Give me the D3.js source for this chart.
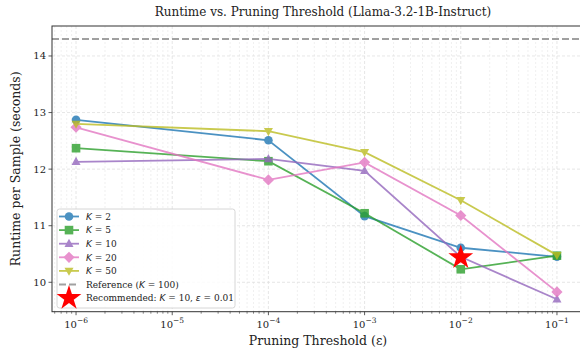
<!DOCTYPE html>
<html><head><meta charset="utf-8">
<script src="https://cdn.jsdelivr.net/npm/d3@7"></script>
<style>body{margin:0;background:#fff}svg{display:block}</style>
</head><body>
<script>
const thresholds = [1e-6, 1e-4, 1e-3, 1e-2, 1e-1];
const seriesNames = ["K = 2", "K = 5", "K = 10", "K = 20", "K = 50"];
const k2  = [12.87, 12.51, 11.17, 10.61, 10.45];
const k5  = [12.37, 12.14, 11.22, 10.23, 10.47];
const k10 = [12.13, 12.18, 11.97, 10.45, 9.70];
const k20 = [12.74, 11.81, 12.12, 11.18, 9.83];
const k50 = [12.80, 12.67, 12.30, 11.45, 10.48];
const referenceValue = 14.3;
const recommended = {x: 1e-2, y: 10.44};
const yTicks = [10, 11, 12, 13, 14];
const xTickExps = [-6, -5, -4, -3, -2, -1];
const colors = ["#1f77b4", "#2ca02c", "#9467bd", "#e377c2", "#bcbd22"];
const markers = ["circle", "square", "triUp", "diamond", "triDown"];
const allSeries = [k2, k5, k10, k20, k50];

const W = 580, H = 356;
const L = 52, R = 581, T = 26, B = 311.7;
const svg = d3.select("body").append("svg").attr("width", W).attr("height", H);
const font = "'DejaVu Serif', serif";

const x = d3.scaleLog().domain([Math.pow(10, -6.25), Math.pow(10, -0.75)]).range([L, R]);
const y = d3.scaleLinear().domain([9.48, 14.53]).range([B, T]);

// grid
const minor = [];
for (let e = -7; e <= 0; e++) for (let m = 2; m <= 9; m++) {
  const v = m * Math.pow(10, e);
  if (v > x.domain()[0] && v < x.domain()[1]) minor.push(v);
}
const majors = xTickExps.map(e => Math.pow(10, e));
const grid = svg.append("g");
grid.selectAll(".mg").data(minor).join("line")
  .attr("x1", d => x(d)).attr("x2", d => x(d)).attr("y1", T).attr("y2", B)
  .attr("stroke", "#e6e6e6").attr("stroke-width", 0.6).attr("stroke-dasharray", "2,2");
grid.selectAll(".Mg").data(majors).join("line")
  .attr("x1", d => x(d)).attr("x2", d => x(d)).attr("y1", T).attr("y2", B)
  .attr("stroke", "#e0e0e0").attr("stroke-width", 0.8).attr("stroke-dasharray", "3,2");
grid.selectAll(".yg").data(yTicks).join("line")
  .attr("x1", L).attr("x2", R).attr("y1", d => y(d)).attr("y2", d => y(d))
  .attr("stroke", "#e0e0e0").attr("stroke-width", 0.8).attr("stroke-dasharray", "3,2");

// reference line
svg.append("line").attr("x1", L).attr("x2", R).attr("y1", y(referenceValue)).attr("y2", y(referenceValue))
  .attr("stroke", "#a0a0a0").attr("stroke-width", 1.8).attr("stroke-dasharray", "7,3");

function markerPath(type, s) {
  switch (type) {
    case "circle": return d3.symbol(d3.symbolCircle, s * s * Math.PI)();
    case "square": return `M${-s},${-s}H${s}V${s}H${-s}Z`;
    case "triUp": return `M0,${-s*1.15}L${s*1.05},${s*0.75}L${-s*1.05},${s*0.75}Z`;
    case "triDown": return `M0,${s*1.15}L${s*1.05},${-s*0.75}L${-s*1.05},${-s*0.75}Z`;
    case "diamond": return `M0,${-s*1.3}L${s*1.3},0L0,${s*1.3}L${-s*1.3},0Z`;
  }
}

const line = d3.line().x(d => x(d[0])).y(d => y(d[1]));
allSeries.forEach((vals, i) => {
  const pts = thresholds.map((t, j) => [t, vals[j]]);
  const g = svg.append("g").attr("opacity", 0.8);
  g.append("path").attr("d", line(pts)).attr("fill", "none").attr("stroke", colors[i]).attr("stroke-width", 1.8);
  g.selectAll("path.m").data(pts).join("path").attr("class", "m")
    .attr("transform", d => `translate(${x(d[0])},${y(d[1])})`)
    .attr("d", markerPath(markers[i], 4.3)).attr("fill", colors[i]);
});

// star
const star = d3.symbol(d3.symbolStar, 190)();
svg.append("path").attr("d", star).attr("fill", "red")
  .attr("transform", `translate(${x(recommended.x)},${y(recommended.y)})`);

// axes frame
svg.append("rect").attr("x", L).attr("y", T).attr("width", R - L).attr("height", B - T)
  .attr("fill", "none").attr("stroke", "#333").attr("stroke-width", 1);

// x ticks
const xAxis = svg.append("g");
xAxis.selectAll(".mt").data(minor).join("line")
  .attr("x1", d => x(d)).attr("x2", d => x(d)).attr("y1", B).attr("y2", B + 2)
  .attr("stroke", "#333").attr("stroke-width", 0.6);
xAxis.selectAll(".Mt").data(majors).join("line")
  .attr("x1", d => x(d)).attr("x2", d => x(d)).attr("y1", B).attr("y2", B + 3.5)
  .attr("stroke", "#333").attr("stroke-width", 0.8);
xTickExps.forEach(e => {
  const t = svg.append("text").attr("x", x(Math.pow(10, e))).attr("y", B + 16)
    .attr("text-anchor", "middle").attr("font-family", font).attr("font-size", 10).attr("fill", "#222");
  t.append("tspan").text("10");
  t.append("tspan").attr("dy", -4.5).attr("font-size", 7.5).text("\u2212" + Math.abs(e));
});
svg.selectAll(".yt").data(yTicks).join("line")
  .attr("x1", L - 3.5).attr("x2", L).attr("y1", d => y(d)).attr("y2", d => y(d))
  .attr("stroke", "#333").attr("stroke-width", 0.8);
svg.selectAll(".ytl").data(yTicks).join("text")
  .attr("x", L - 6).attr("y", d => y(d) + 3.5).attr("text-anchor", "end")
  .attr("font-family", font).attr("font-size", 10).attr("fill", "#222").text(d => d);

// labels
svg.append("text").attr("x", 323).attr("y", 16).attr("text-anchor", "middle")
  .attr("font-family", font).attr("font-size", 12).attr("fill", "#222")
  .text("Runtime vs. Pruning Threshold (Llama-3.2-1B-Instruct)");
svg.append("text").attr("x", 318).attr("y", 345).attr("text-anchor", "middle")
  .attr("font-family", font).attr("font-size", 12.5).attr("fill", "#222")
  .text("Pruning Threshold (\u03b5)");
svg.append("text").attr("transform", `translate(20,${(T + B) / 2}) rotate(-90)`).attr("text-anchor", "middle")
  .attr("font-family", font).attr("font-size", 12.5).attr("fill", "#222")
  .text("Runtime per Sample (seconds)");

// legend
const lg = svg.append("g");
lg.append("rect").attr("x", 57).attr("y", 209).attr("width", 178).attr("height", 99).attr("rx", 2.5)
  .attr("fill", "white").attr("fill-opacity", 0.85).attr("stroke", "#ccc").attr("stroke-width", 0.8);
const rowY = i => 216.5 + i * 13.6;
function kLabel(t, parts) {
  parts.forEach(p => {
    const s = t.append("tspan").text(p[0]);
    if (p[1]) s.attr("font-style", "italic").attr("font-family", "'DejaVu Sans', sans-serif");
  });
}
seriesNames.forEach((n, i) => {
  const yy = rowY(i);
  const g = lg.append("g").attr("opacity", 0.8);
  g.append("line").attr("x1", 59).attr("x2", 79).attr("y1", yy).attr("y2", yy)
    .attr("stroke", colors[i]).attr("stroke-width", 1.8);
  g.append("path").attr("d", markerPath(markers[i], 4.3)).attr("fill", colors[i])
    .attr("transform", `translate(69,${yy})`);
  const t = lg.append("text").attr("x", 86).attr("y", yy + 3.2).attr("font-family", font)
    .attr("font-size", 9).attr("fill", "#222");
  kLabel(t, [["K", true], [n.slice(1), false]]);
});
{
  const yy = rowY(5);
  lg.append("line").attr("x1", 59).attr("x2", 79).attr("y1", yy).attr("y2", yy)
    .attr("stroke", "#a0a0a0").attr("stroke-width", 1.8).attr("stroke-dasharray", "7,3");
  const t = lg.append("text").attr("x", 86).attr("y", yy + 3.2).attr("font-family", font)
    .attr("font-size", 9).attr("fill", "#222");
  kLabel(t, [["Reference (", false], ["K", true], [" = 100)", false]]);
  const y2 = rowY(6);
  lg.append("path").attr("d", d3.symbol(d3.symbolStar, 190)()).attr("fill", "red")
    .attr("transform", `translate(69,${y2})`);
  const t2 = lg.append("text").attr("x", 86).attr("y", y2 + 3.2).attr("font-family", font)
    .attr("font-size", 9).attr("fill", "#222");
  kLabel(t2, [["Recommended: ", false], ["K", true], [" = 10, ", false], ["\u03b5", true], [" = 0.01", false]]);
}
</script>
</body></html>
